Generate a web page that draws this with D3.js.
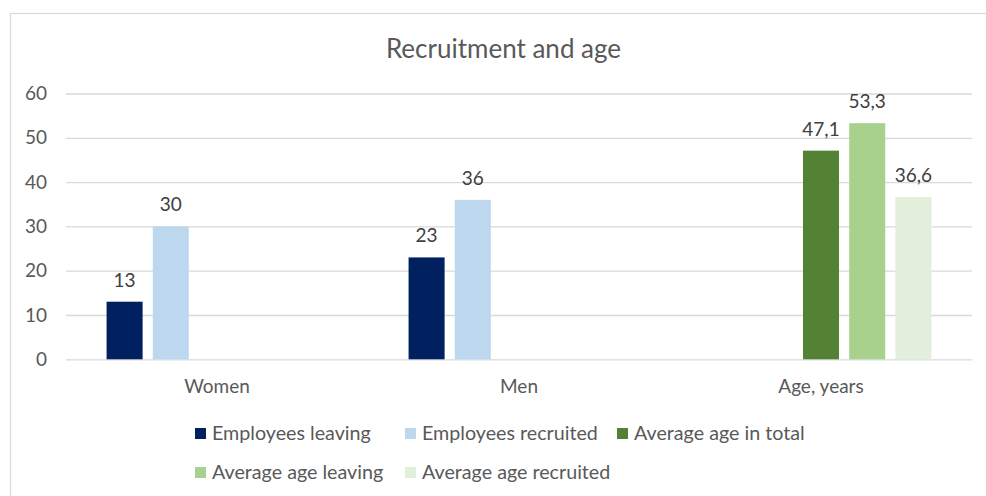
<!DOCTYPE html>
<html>
<head>
<meta charset="utf-8">
<script src="https://cdn.jsdelivr.net/npm/d3@7"></script>
<style>
  body { margin: 0; background: #fff; }
  svg text { font-family: Lato, "Open Sans", sans-serif; }
</style>
</head>
<body>
<svg id="chart" width="986" height="496"></svg>
<script>
/* DATA */
var categories = ["Women", "Men", "Age, years"];
var seriesNames = ["Employees leaving", "Employees recruited", "Average age in total",
                   "Average age leaving", "Average age recruited"];
var seriesColors = ["#002060", "#bdd7ee", "#548235", "#a9d18e", "#e2efda"];
// null = no bar in that group
var employeesLeaving   = [13, 23, null];
var employeesRecruited = [30, 36, null];
var avgAgeTotal        = [null, null, 47.1];
var avgAgeLeaving      = [null, null, 53.3];
var avgAgeRecruited    = [null, null, 36.6];
var yTicks = [0, 10, 20, 30, 40, 50, 60];

var seriesValues = [employeesLeaving, employeesRecruited, avgAgeTotal, avgAgeLeaving, avgAgeRecruited];

var svg = d3.select('#chart');
var fontSize = 19;

/* FRAME */
svg.append('rect')
  .attr('x', 10.5).attr('y', 13.5)
  .attr('width', 990).attr('height', 500)
  .attr('fill', '#fff')
  .attr('stroke', '#d9d9d9')
  .attr('stroke-width', 1.2);

/* TITLE */
svg.append('text')
  .attr('x', 503.5).attr('y', 58)
  .attr('text-anchor', 'middle')
  .attr('font-size', 26)
  .attr('fill', '#595959')
  .text('Recruitment and age');

/* SCALES */
var plotLeft = 66, plotRight = 972, plotTop = 93.5, plotBottom = 359.3;
var x0 = d3.scaleBand().domain(categories).range([plotLeft, plotRight])
  .paddingInner(0.235).paddingOuter(0.1175);
var x1 = d3.scaleBand().domain(seriesNames).range([0, x0.bandwidth()])
  .paddingInner(0.22).paddingOuter(0.11);
var y = d3.scaleLinear().domain([0, 60]).range([plotBottom, plotTop]);

/* GRID + Y AXIS */
var yAxis = d3.axisLeft(y).tickValues(yTicks).tickSize(-(plotRight - plotLeft)).tickPadding(19);
var gy = svg.append('g').attr('transform', 'translate(' + plotLeft + ',0)').call(yAxis);
gy.select('.domain').remove();
gy.selectAll('.tick line').attr('stroke', '#d9d9d9').attr('stroke-width', 1.3);
gy.selectAll('.tick text').attr('fill', '#595959').attr('font-size', fontSize)
  .attr('font-family', 'Lato, sans-serif');

/* X AXIS LABELS */
svg.append('g').selectAll('text').data(categories).join('text')
  .attr('x', function(d){ return x0(d) + x0.bandwidth()/2; })
  .attr('y', 393)
  .attr('text-anchor', 'middle')
  .attr('font-size', fontSize)
  .attr('fill', '#595959')
  .text(function(d){ return d; });

/* BARS */
var bars = [];
categories.forEach(function(c, ci){
  seriesNames.forEach(function(s, si){
    var v = seriesValues[si][ci];
    if (v != null) bars.push({cat: c, series: s, value: v, color: seriesColors[si]});
  });
});

svg.append('g').selectAll('rect').data(bars).join('rect')
  .attr('x', function(d){ return x0(d.cat) + x1(d.series); })
  .attr('y', function(d){ return y(d.value); })
  .attr('width', x1.bandwidth())
  .attr('height', function(d){ return y(0) - y(d.value); })
  .attr('fill', function(d){ return d.color; });

/* DATA LABELS */
var fmt = function(v){ return (v % 1 === 0 ? String(v) : v.toFixed(1).replace('.', ',')); };
svg.append('g').selectAll('text').data(bars).join('text')
  .attr('x', function(d){ return x0(d.cat) + x1(d.series) + x1.bandwidth()/2; })
  .attr('y', function(d){ return y(d.value) - 15; })
  .attr('text-anchor', 'middle')
  .attr('font-size', fontSize)
  .attr('fill', '#404040')
  .text(function(d){ return fmt(d.value); });

/* LEGEND */
var legendPos = [[195, 433.5], [405, 433.5], [617, 433.5], [195, 472.5], [405, 472.5]];
var lg = svg.append('g').selectAll('g').data(seriesNames).join('g')
  .attr('transform', function(d, i){ return 'translate(' + legendPos[i][0] + ',' + legendPos[i][1] + ')'; });
lg.append('rect')
  .attr('x', 0).attr('y', -5.5)
  .attr('width', 11).attr('height', 11)
  .attr('fill', function(d, i){ return seriesColors[i]; });
lg.append('text')
  .attr('x', 17).attr('y', 6.5)
  .attr('font-size', 19.7)
  .attr('fill', '#595959')
  .text(function(d){ return d; });
</script>
</body>
</html>
